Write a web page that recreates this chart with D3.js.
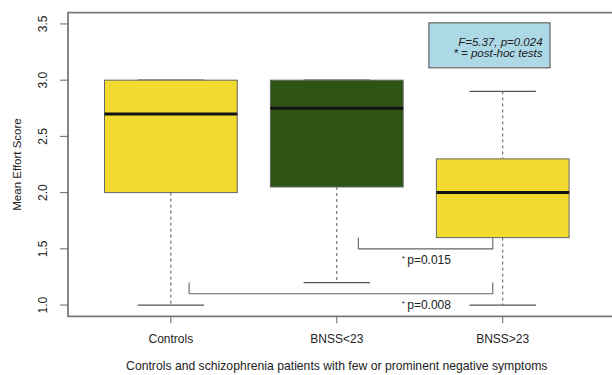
<!DOCTYPE html>
<html>
<head>
<meta charset="utf-8">
<script src="https://cdn.jsdelivr.net/npm/d3@7"></script>
<style>
  body { margin: 0; background: #fff; }
  svg { display: block; font-family: "Liberation Sans", Arial, sans-serif; }
</style>
</head>
<body>
<svg id="chart" width="612" height="375"></svg>
<script>
// data
const groups = ["Controls", "BNSS<23", "BNSS>23"];
const whiskerLow = [1.0, 1.2, 1.0];
const q1 = [2.0, 2.05, 1.6];
const medians = [2.7, 2.75, 2.0];
const q3 = [3.0, 3.0, 2.3];
const whiskerHigh = [3.0, 3.0, 2.9];
const yTicks = [1.0, 1.5, 2.0, 2.5, 3.0, 3.5];

// post-hoc brackets (x in group units, y in score units)
const bracketFrom = [2.13, 1.11];
const bracketTo = [2.94, 2.94];
const bracketLevel = [1.5, 1.1];
const bracketLabels = ["p=0.015", "p=0.008"];
const statLines = ["F=5.37, p=0.024", "* = post-hoc tests"];

const boxColors = ["#f2da2e", "#2f5412", "#f2da2e"];

const svg = d3.select("#chart");

//scales (R style: 4% padding on each side)
const x = d3.scaleLinear().domain([0.38, 3.62]).range([68, 605.6]);
const y = d3.scaleLinear().domain([0.9, 3.6]).range([316.3, 12.7]);
const bw = (x(1.8) - x(1)) / 2; // half box width (boxwex 0.8)

//frame (right side runs off the picture)
svg.append("path")
  .attr("d", `M620,${y(3.6)} H${x(0.38)} V${y(0.9)} H620`)
  .attr("fill", "none")
  .attr("stroke", "#7a7a7a")
  .attr("stroke-width", 1.8);

//y axis
const yAxis = svg.append("g").attr("transform", `translate(${x(0.38)},0)`);
yAxis.selectAll(".tk").data(yTicks).join("line")
  .attr("x1", 0).attr("x2", -8)
  .attr("y1", d => y(d)).attr("y2", d => y(d))
  .attr("stroke", "#666");
yAxis.selectAll(".lbl").data(yTicks).join("text")
  .attr("transform", d => `translate(-25,${y(d)}) rotate(-90)`)
  .attr("text-anchor", "middle")
  .attr("dy", "0.35em")
  .attr("font-size", 12)
  .attr("fill", "#222")
  .text(d => d.toFixed(1));
svg.append("text")
  .attr("transform", `translate(17,${y(2.25)}) rotate(-90)`)
  .attr("text-anchor", "middle")
  .attr("dy", "0.35em")
  .attr("font-size", 11.5)
  .attr("fill", "#222")
  .text("Mean Effort Score");

//x axis
const xAxis = svg.append("g").attr("transform", `translate(0,${y(0.9)})`);
xAxis.selectAll(".tk").data(groups).join("line")
  .attr("x1", (d, i) => x(i + 1)).attr("x2", (d, i) => x(i + 1))
  .attr("y1", 0).attr("y2", 7)
  .attr("stroke", "#666");
xAxis.selectAll(".lbl").data(groups).join("text")
  .attr("x", (d, i) => x(i + 1))
  .attr("y", 27)
  .attr("text-anchor", "middle")
  .attr("font-size", 12)
  .attr("fill", "#222")
  .text(d => d);
svg.append("text")
  .attr("x", x(2)).attr("y", 370)
  .attr("text-anchor", "middle")
  .attr("font-size", 12.2)
  .attr("fill", "#222")
  .text("Controls and schizophrenia patients with few or prominent negative symptoms");

//boxes
const box = svg.selectAll(".box").data(groups).join("g").attr("class", "box");
// whiskers
box.append("line")
  .attr("x1", (d, i) => x(i + 1)).attr("x2", (d, i) => x(i + 1))
  .attr("y1", (d, i) => y(whiskerHigh[i])).attr("y2", (d, i) => y(q3[i]))
  .attr("stroke", "#555").attr("stroke-dasharray", "3,3");
box.append("line")
  .attr("x1", (d, i) => x(i + 1)).attr("x2", (d, i) => x(i + 1))
  .attr("y1", (d, i) => y(q1[i])).attr("y2", (d, i) => y(whiskerLow[i]))
  .attr("stroke", "#555").attr("stroke-dasharray", "3,3");
// staples
[whiskerHigh, whiskerLow].forEach(arr => {
  box.append("line")
    .attr("x1", (d, i) => x(i + 1) - bw / 2).attr("x2", (d, i) => x(i + 1) + bw / 2)
    .attr("y1", (d, i) => y(arr[i])).attr("y2", (d, i) => y(arr[i]))
    .attr("stroke", "#555").attr("stroke-width", 1.2);
});
box.append("rect")
  .attr("x", (d, i) => x(i + 1) - bw)
  .attr("width", 2 * bw)
  .attr("y", (d, i) => y(q3[i]))
  .attr("height", (d, i) => y(q1[i]) - y(q3[i]))
  .attr("fill", (d, i) => boxColors[i])
  .attr("stroke", "#666").attr("stroke-width", 1);
box.append("line")
  .attr("x1", (d, i) => x(i + 1) - bw).attr("x2", (d, i) => x(i + 1) + bw)
  .attr("y1", (d, i) => y(medians[i])).attr("y2", (d, i) => y(medians[i]))
  .attr("stroke", "#111").attr("stroke-width", 3);

//significance brackets
bracketLabels.forEach((lab, k) => {
  const x0 = x(bracketFrom[k]), x1 = x(bracketTo[k]);
  const yb = y(bracketLevel[k]), yt = y(bracketLevel[k] + 0.1);
  svg.append("path")
    .attr("d", `M${x0},${yt} V${yb} H${x1} V${yt}`)
    .attr("fill", "none").attr("stroke", "#666").attr("stroke-width", 1.1);
  const t = svg.append("text")
    .attr("x", x(2.54)).attr("y", yb + 15)
    .attr("text-anchor", "middle")
    .attr("font-size", 12)
    .attr("fill", "#222");
  t.append("tspan").attr("font-size", 8).attr("dy", -3).text("* ");
  t.append("tspan").attr("dy", 3).text(lab);
});

//stats box
svg.append("rect")
  .attr("x", x(2.555)).attr("y", y(3.51))
  .attr("width", x(3.285) - x(2.555))
  .attr("height", y(3.11) - y(3.51))
  .attr("fill", "#add8e6")
  .attr("stroke", "#666").attr("stroke-width", 1.2);
svg.selectAll(".stat").data(statLines).join("text")
  .attr("x", x(3.24))
  .attr("y", (d, i) => y(3.305) + i * 11.5)
  .attr("text-anchor", "end")
  .attr("font-size", 11.5)
  .attr("font-style", "italic")
  .attr("fill", "#222")
  .text(d => d);
</script>
</body>
</html>
